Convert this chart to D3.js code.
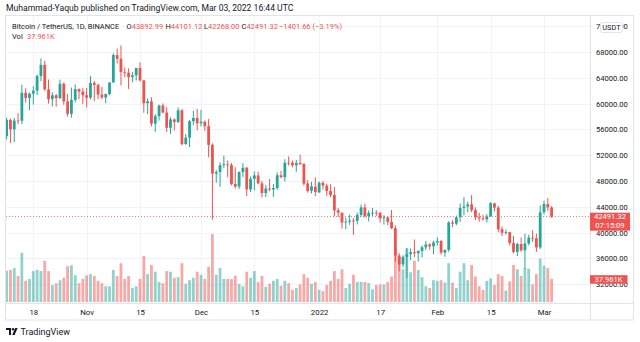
<!DOCTYPE html>
<html><head><meta charset="utf-8">
<script src="https://cdn.jsdelivr.net/npm/d3@7"></script>
<style>
html,body{margin:0;padding:0;background:#fff;}
svg{display:block;font-family:Roboto,"Noto Sans",sans-serif;}
</style></head>
<body><svg id="c" width="640" height="342"></svg>
<script>
// ---------- DATA ----------
const startDate = "2021-10-11", endDate = "2022-03-04"; // daily candles, 144 days
const open = [54952,57471,56005,57367,57347,61672,60875,61528,62006,64280,66002,62193,60688,61286,60852,63078,60328,58413,60575,62253,61859,
61299,60911,63220,62896,61396,60941,61470,63274,67525,66947,64882,64774,64122,64380,65520,63606,60058,60345,56891,58057,59707,58617,56247,57541,57138,58960,53727,54721,57274,57777,
56951,57185,56485,53601,49152,49397,50441,50588,50471,47536,47140,49389,50053,46703,48336,48864,47632,46133,46834,46681,46914,48887,48588,50838,50821,50429,50802,50679,47623,46490,47121,
46217,47722,47286,46446,45832,43451,43082,41566,41680,41865,41822,42729,43908,42560,43060,43084,43071,42201,42352,41660,40680,36445,35071,36244,36660,36958,36807,37161,37716,38166,37881,
38466,38694,36896,37311,41571,41382,42380,43839,44043,44373,43495,42373,42217,42053,42535,44545,43873,40516,39975,40079,38386,37008,38230,37250,38328,39219,39116,37699,
43160,44421,43892.99];
const high = [57839,57680,57812,58532,62933,62378,61718,62695,64487,67000,66639,63732,61747,61500,63710,63293,61496,62499,62980,62359,62405,
62437,64270,63500,63086,62595,61560,63286,67789,68524,69000,65600,65450,64916,65550,66401,63617,60840,60977,58372,59845,60029,59444,57875,57735,59398,59150,55280,57445,58865,59176,
59053,57375,57600,53860,49699,50891,51936,51200,50797,50125,49485,50777,50189,48700,49500,49436,47995,47392,48300,47537,49328,49576,51375,51810,51156,51281,52088,50679,48119,47879,48548,
47954,47990,47570,47505,47070,43816,43145,42300,42786,42248,43100,44322,44458,43448,43800,43475,43176,42691,42559,43505,41100,36835,36499,37550,37545,38920,37234,38000,38720,38359,38744,
39265,38855,37387,41772,41913,42656,44500,45492,44799,45821,43920,43079,42760,42876,44751,44549,44164,40959,40444,40125,39494,38429,39249,39843,39683,40348,39855,44225,
44949,45400,44101.12];
const low = [54415,53879,54015,56819,56850,60150,58963,59844,61322,63482,62000,60000,59562,59510,60650,59817,58000,57820,60174,60673,59945,
59405,60624,60382,60677,60721,60050,61322,63273,66222,62822,64100,62278,63303,63576,63400,58575,58373,56474,55600,57353,58486,55610,55317,55837,57000,53500,53610,53256,56666,55875,
56458,55777,51680,42000,47728,47100,50039,48600,47320,46852,46751,48638,45672,46290,46547,47511,45456,45500,46406,45558,46630,48421,47920,50384,50142,49412,50449,47314,46201,46060,45678,
46208,46654,45696,45502,42500,42430,40610,40501,41200,39650,41268,42450,42311,41725,42555,42581,41540,41250,41138,40553,35440,34008,34601,32917,35701,36193,35507,36155,37268,37351,36633,
38000,36586,36250,37026,40843,41116,41645,42666,43117,43174,41938,41688,41870,41570,42427,43307,40073,39451,39639,38000,36800,36350,37036,34322,38014,38573,37000,37450,
42809,43334,42268];
const close = [57471,56005,57367,57347,61672,60875,61528,62006,64280,66001,62193,60688,61286,60852,63078,60328,58413,60575,62253,61859,61299,
60911,63219,62896,61395,60937,61470,63273,67525,66947,64882,64774,64122,64380,65519,63606,60058,60344,56891,58052,59707,58622,56247,57541,57138,58960,53727,54721,57274,57776,56950,
57184,56480,53602,49152,49397,50441,50588,50471,47545,47140,49389,50053,46702,48343,48864,47632,46131,46834,46681,46914,48889,48588,50838,50821,50429,50809,50640,47588,46444,47178,46306,
47722,47286,46446,45832,43451,43082,41566,41680,41864,41822,42729,43903,42560,43059,43084,43071,42201,42352,41660,40680,36445,35071,36244,36660,36958,36809,37160,37716,38166,37881,38466,
38694,36896,37311,41574,41382,42380,43840,44043,44373,43495,42373,42217,42053,42535,44544,43873,40515,39974,40079,38386,37008,38230,37250,38328,39219,39116,37699,43160,
44421,43892.99,42491.32];
const volumeK = [51.6,52.8,56,43,81,35,38,51,53,51,68,51,28,31,36,40,59,60.5,44,31,38,44,46,43,35,31,26,26,53,43,
64,38,43,23,26,38,76,46,61,50,33,31,51,50,40,41,64,30,36,40,50,45,38,58,112,45,56,38,38,38,
43,30,26,50,40,51,33,43,25,30,35,38,27,35,31,20,23,29,46,40,30,33,20,18,28,35,51,38,54,23,
30,45,33,33,33,31,21,28,29,29,33,42,89,74,54,89,49,68,53,
41,26,23,36,35,36,32,64,32,23,50,64,36,61,42,26,20,35,39,28,46,43,19,34,61,54,43,56,55,29,46,72,60,56,37.961];
const priceTicks = [72000,68000,64000,60000,56000,52000,48000,44000,40000,36000,32000];
const timeTickDates = ["2021-10-18","2021-11-01","2021-11-15","2021-12-01","2021-12-15","2022-01-01","2022-01-17","2022-02-01","2022-02-15","2022-03-01"];
const timeTickLabels = ["18","Nov","15","Dec","15","2022","17","Feb","15","Mar"];
const lastPrice = 42491.32, countdown = "07:15:09", lastVolLabel = "37.961K";
const changeAbs = -1401.66, changePct = -3.19;

// ---------- CHART ----------
const GREEN = "#26a69a", RED = "#ef5350", TXT = "#131722", GRID = "#f0f3fa", BORDER = "#e0e3eb";
const svg = d3.select("#c");
const parse = d3.utcParse("%Y-%m-%d");
const dates = d3.utcDay.range(parse(startDate), parse(endDate));
const data = dates.map((d,i)=>({d, o:open[i], h:high[i], l:low[i], c:close[i], v:volumeK[i]}));

const plot = {l:6, r:590, t:16, b:303};
const x = d3.scaleUtc().domain([parse("2021-10-18"), parse("2022-03-01")]).range([33.3, 544]);
const y = d3.scaleLinear().domain([32000, 72000]).range([284.2, 26.2]);
const yv = d3.scaleLinear().domain([0, 100]).range([302, 241.4]);
const bw = 2.8;
const fmt2 = d3.format(".2f");

svg.append("defs").append("clipPath").attr("id","clip")
  .append("rect").attr("x",plot.l).attr("y",plot.t).attr("width",plot.r-plot.l).attr("height",plot.b-plot.t);

// header title
svg.append("text").attr("x",6).attr("y",11).attr("font-size",8.6).attr("fill",TXT)
  .text("Muhammad-Yaqub published on TradingView.com, Mar 03, 2022 16:44 UTC");

// outer frame
svg.append("rect").attr("x",5.5).attr("y",15.5).attr("width",628).attr("height",304.5)
  .attr("fill","none").attr("stroke",BORDER);

// grid
const g = svg.append("g").attr("clip-path","url(#clip)");
g.selectAll("line.hg").data(priceTicks).join("line")
  .attr("x1",plot.l).attr("x2",plot.r).attr("y1",d=>Math.round(y(d))+0.5).attr("y2",d=>Math.round(y(d))+0.5)
  .attr("stroke",GRID);
g.selectAll("line.vg").data(timeTickDates).join("line")
  .attr("x1",d=>Math.round(x(parse(d)))+0.5).attr("x2",d=>Math.round(x(parse(d)))+0.5)
  .attr("y1",plot.t).attr("y2",plot.b).attr("stroke",GRID);

// volume
g.selectAll("rect.vol").data(data).join("rect")
  .attr("x",d=>x(d.d)-bw/2).attr("width",bw)
  .attr("y",d=>yv(d.v)).attr("height",d=>yv(0)-yv(d.v))
  .attr("fill",d=>d.c>=d.o?GREEN:RED).attr("fill-opacity",0.5);

// candles
const cg = g.selectAll("g.cd").data(data).join("g");
cg.append("line").attr("x1",d=>x(d.d)).attr("x2",d=>x(d.d))
  .attr("y1",d=>y(d.h)).attr("y2",d=>y(d.l))
  .attr("stroke",d=>d.c>=d.o?GREEN:RED).attr("stroke-width",1);
cg.append("rect").attr("x",d=>x(d.d)-bw/2).attr("width",bw)
  .attr("y",d=>y(Math.max(d.o,d.c))).attr("height",d=>Math.max(0.8,Math.abs(y(d.o)-y(d.c))))
  .attr("fill",d=>d.c>=d.o?GREEN:RED);

// last price dotted line
g.append("line").attr("x1",plot.l).attr("x2",plot.r)
  .attr("y1",y(lastPrice)).attr("y2",y(lastPrice))
  .attr("stroke",RED).attr("stroke-width",1).attr("stroke-dasharray","1,2").attr("opacity",0.8);

// separators
svg.append("line").attr("x1",590.5).attr("x2",590.5).attr("y1",16).attr("y2",320).attr("stroke",BORDER);
svg.append("line").attr("x1",6).attr("x2",633).attr("y1",303.5).attr("y2",303.5).attr("stroke",BORDER);

// price axis
const ya = svg.append("g").attr("transform","translate(591,0)")
  .call(d3.axisRight(y).tickValues(priceTicks).tickFormat(d=>fmt2(d)).tickSize(0).tickPadding(5));
ya.select(".domain").remove();
ya.selectAll("text").attr("font-size",7.6).attr("fill",TXT).attr("font-family","Roboto,'Noto Sans',sans-serif");

// time axis
const xa = svg.append("g").attr("transform","translate(0,304)")
  .call(d3.axisBottom(x).tickValues(timeTickDates.map(parse)).tickFormat((d,i)=>timeTickLabels[i]).tickSize(0).tickPadding(5));
xa.select(".domain").remove();
xa.selectAll("text").attr("font-size",7.8).attr("fill",TXT).attr("font-family","Roboto,'Noto Sans',sans-serif");

// USDT box
svg.append("rect").attr("x",600.5).attr("y",22.5).attr("width",22).attr("height",10).attr("rx",2)
  .attr("fill","#fff").attr("stroke",BORDER);
svg.append("text").attr("x",611.5).attr("y",30.3).attr("text-anchor","middle").attr("font-size",7.4).attr("fill",TXT).text("USDT");

// last price label
svg.append("rect").attr("x",590).attr("y",212.7).attr("width",40).attr("height",18).attr("fill",RED);
svg.append("text").attr("x",610).attr("y",219.4).attr("text-anchor","middle").attr("font-size",7.6).attr("fill","#fff").text(fmt2(lastPrice));
svg.append("text").attr("x",610).attr("y",228.2).attr("text-anchor","middle").attr("font-size",7.6).attr("fill","#fff").text(countdown);

// volume label
const vy = yv(volumeK[volumeK.length-1]);
svg.append("rect").attr("x",590).attr("y",vy-3.8).attr("width",37.5).attr("height",8.5).attr("fill",RED);
svg.append("text").attr("x",608.5).attr("y",vy+3).attr("text-anchor","middle").attr("font-size",7.6).attr("fill","#fff").text(lastVolLabel);

// legend header
const HF = 7.5;
svg.append("text").attr("x",12).attr("y",28.5).attr("font-size",HF).attr("fill",TXT).text("Bitcoin / TetherUS, 1D, BINANCE");
const last = data[data.length-1];
[["O",last.o,126.5],["H",last.h,165.5],["L",last.l,204],["C",last.c,241.5]].forEach(([k,v,px])=>{
  const t = svg.append("text").attr("x",px).attr("y",28.5).attr("font-size",HF).attr("fill",TXT);
  t.append("tspan").text(k);
  t.append("tspan").attr("fill",RED).text(fmt2(v));
});
svg.append("text").attr("x",279).attr("y",28.5).attr("font-size",HF).attr("fill",RED)
  .text("\u2212" + fmt2(Math.abs(changeAbs)) + " (\u2212" + fmt2(Math.abs(changePct)) + "%)");
svg.append("text").attr("x",12).attr("y",39).attr("font-size",HF).attr("fill",TXT).text("Vol");
svg.append("text").attr("x",27).attr("y",39).attr("font-size",HF).attr("fill",RED).text(lastVolLabel);

// TradingView logo
const lg = svg.append("g").attr("transform","translate(6,328)").attr("fill",TXT);
lg.append("path").attr("d","M0 0H5V7H3V2H0Z");
lg.append("circle").attr("cx",7).attr("cy",1.2).attr("r",1.2);
lg.append("path").attr("d","M9.2 0H11.6L8.6 7H6.2Z");
svg.append("text").attr("x",20.5).attr("y",335).attr("font-size",9).attr("fill",TXT).text("TradingView");
</script>
</body></html>
